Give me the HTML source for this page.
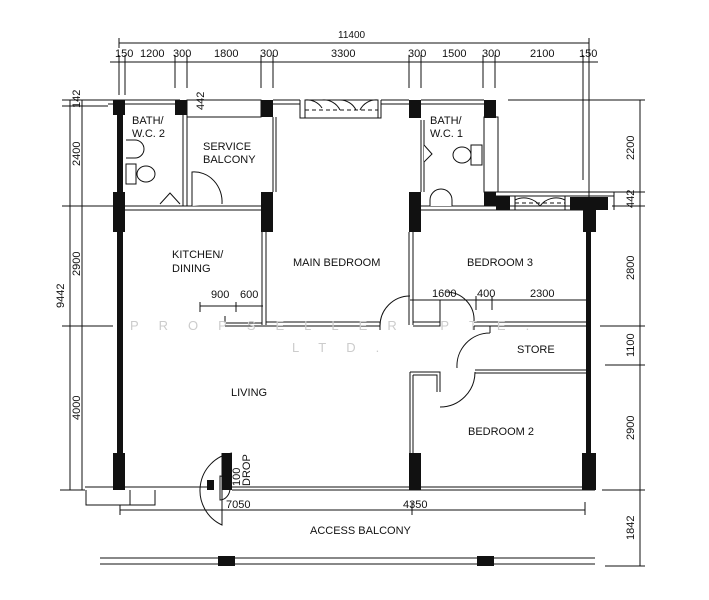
<!DOCTYPE html>
<html><head><meta charset="utf-8"><style>
body{margin:0;background:#fff}
svg{display:block}
text{font-family:"Liberation Sans Narrow","Liberation Sans",sans-serif;font-size:11px;fill:#111}
.d{font-size:10px}
</style></head><body>
<svg width="709" height="600" viewBox="0 0 709 600" xmlns="http://www.w3.org/2000/svg">
<g stroke="#111" fill="none" stroke-width="1">
<!-- top dims -->
<line x1="119" y1="43" x2="589" y2="43"/>
<line x1="119" y1="38" x2="119" y2="48"/><line x1="589" y1="38" x2="589" y2="48"/>
<line x1="110" y1="62" x2="598" y2="62"/>
<g>
<line x1="119" y1="55" x2="119" y2="95"/><line x1="125" y1="55" x2="125" y2="95"/>
<line x1="175" y1="55" x2="175" y2="88"/><line x1="187" y1="55" x2="187" y2="88"/>
<line x1="261" y1="55" x2="261" y2="88"/><line x1="273" y1="55" x2="273" y2="88"/>
<line x1="409" y1="55" x2="409" y2="88"/><line x1="421" y1="55" x2="421" y2="88"/>
<line x1="483" y1="55" x2="483" y2="88"/><line x1="495" y1="55" x2="495" y2="88"/>
<line x1="583" y1="55" x2="583" y2="180"/><line x1="589" y1="43" x2="589" y2="200"/>
</g>
<!-- left dims -->
<line x1="70" y1="100" x2="70" y2="490"/>
<line x1="62" y1="100" x2="108" y2="100"/><line x1="62" y1="106" x2="108" y2="106"/>
<line x1="62" y1="206" x2="113" y2="206"/><line x1="62" y1="326" x2="113" y2="326"/>
<line x1="60" y1="490" x2="85" y2="490"/>
<line x1="82" y1="100" x2="82" y2="490"/>
<!-- right dims -->
<line x1="640" y1="100" x2="640" y2="566"/>
<line x1="508" y1="100" x2="645" y2="100"/>
<line x1="612" y1="192" x2="645" y2="192"/><line x1="612" y1="206" x2="645" y2="206"/>
<line x1="600" y1="326" x2="645" y2="326"/><line x1="605" y1="365" x2="645" y2="365"/>
<line x1="602" y1="490" x2="645" y2="490"/><line x1="605" y1="566" x2="645" y2="566"/>
<!-- bottom dim -->
<line x1="120" y1="510" x2="585" y2="510"/>
<line x1="120" y1="505" x2="120" y2="515"/><line x1="412" y1="502" x2="412" y2="515"/><line x1="585" y1="502" x2="585" y2="515"/>
<!-- interior dims -->
<line x1="200" y1="306" x2="263" y2="306"/><line x1="200" y1="302" x2="200" y2="312"/><line x1="236" y1="302" x2="236" y2="312"/>
<line x1="410" y1="300" x2="586" y2="300"/><line x1="476" y1="296" x2="476" y2="310"/><line x1="492" y1="296" x2="492" y2="310"/>
<line x1="440" y1="300" x2="440" y2="324"/>

<!-- top exterior wall -->
<line x1="108" y1="100" x2="180" y2="100"/><line x1="108" y1="104" x2="180" y2="104"/>
<rect x="187" y="100" width="74" height="17"/>
<line x1="273" y1="100" x2="300" y2="100"/><line x1="273" y1="104" x2="300" y2="104"/>
<path d="M300 100 V118 H305 M378 118 H381 V100 M381 100 H409 M381 104 H409 M300 104 H296"/>
<rect x="305" y="100" width="73" height="18"/>
<path d="M305 100 A18 18 0 0 1 322 108 M322 100 A18 18 0 0 1 340 110 M340 100 A18 18 0 0 1 356 110 M378 100 A18 18 0 0 0 360 110"/>
<line x1="305" y1="110" x2="378" y2="110" stroke-dasharray="4,3"/>
<line x1="421" y1="100" x2="484" y2="100"/><line x1="421" y1="104" x2="484" y2="104"/>
<rect x="484" y="117" width="14" height="75"/>
<!-- balcony projection -->
<path d="M496 192 H614 V210 M496 196 H614"/>
<rect x="515" y="196" width="50" height="14"/>
<path d="M515 200 A20 20 0 0 1 540 206 M565 200 A20 20 0 0 0 540 206"/>
<line x1="515" y1="203" x2="565" y2="203" stroke-dasharray="4,3"/>
<!-- interior walls -->
<line x1="125" y1="206" x2="261" y2="206"/><line x1="125" y1="210" x2="261" y2="210"/>
<line x1="183" y1="115" x2="183" y2="206"/><line x1="187" y1="117" x2="187" y2="206"/>
<line x1="273" y1="117" x2="273" y2="192"/><line x1="276" y1="117" x2="276" y2="192"/>
<line x1="421" y1="120" x2="421" y2="192"/><line x1="424" y1="120" x2="424" y2="192"/>
<line x1="421" y1="206" x2="583" y2="206"/><line x1="421" y1="210" x2="583" y2="210"/>
<line x1="262" y1="232" x2="262" y2="325"/><line x1="266" y1="232" x2="266" y2="325"/>
<line x1="409" y1="232" x2="409" y2="325"/><line x1="413" y1="232" x2="413" y2="325"/>
<path d="M225 323 H262 M225 326 H266 M225 323 V316 M266 322 H380 M266 326 H380 M380 322 V330"/>
<path d="M380 326 A30 30 0 0 1 410 296"/>
<path d="M413 322 H440 V326 H413 M474 322 H590 M474 326 H590 M474 326 V330"/>
<path d="M446 292 A28 28 0 0 1 474 322"/>
<path d="M490 326 V333 M490 333 A33 33 0 0 0 457 368 M475 370 H590 M475 373 H590"/>
<path d="M410 372 H440 V392 M410 372 V453 M413 375 H437 V392 M413 375 V453"/>
<path d="M475 372 A35 35 0 0 1 440 407"/>
<!-- bottom wall -->
<line x1="85" y1="487" x2="210" y2="487"/><line x1="232" y1="487" x2="595" y2="487"/>
<line x1="232" y1="490" x2="595" y2="490"/>
<path d="M86 490 V505 H130 V490 M130 505 H155 V490"/>
<path d="M232 453 A38 38 0 0 0 222 525 V453"/>
<path d="M220 476 A10 12 0 0 1 220 500 Z"/>
<!-- access balcony -->
<line x1="100" y1="558" x2="595" y2="558"/><line x1="100" y1="564" x2="595" y2="564"/>
<!-- exterior right wall -->
</g>
<g fill="#111">
<rect x="113" y="100" width="12" height="15"/><rect x="175" y="100" width="12" height="15"/>
<rect x="261" y="100" width="12" height="17"/><rect x="409" y="100" width="12" height="18"/>
<rect x="484" y="100" width="12" height="18"/>
<rect x="117" y="100" width="6" height="390"/>
<rect x="113" y="192" width="12" height="40"/><rect x="113" y="453" width="12" height="37"/>
<rect x="261" y="192" width="12" height="40"/><rect x="409" y="192" width="12" height="40"/>
<rect x="484" y="192" width="12" height="14"/><rect x="496" y="196" width="14" height="14"/>
<rect x="570" y="197" width="38" height="13"/><rect x="583" y="197" width="13" height="35"/>
<rect x="586" y="232" width="5" height="258"/><rect x="582" y="453" width="14" height="37"/>
<rect x="409" y="453" width="12" height="37"/><rect x="222" y="453" width="10" height="37"/>
<rect x="207" y="480" width="7" height="10"/>
<rect x="218" y="556" width="17" height="10"/><rect x="477" y="556" width="17" height="10"/>
</g>
<!-- fixtures -->
<g stroke="#111" fill="#fff">
<ellipse cx="146" cy="174" rx="9" ry="8"/><rect x="126" y="164" width="10" height="20"/>
<path d="M126 140 H135 A8 8 0 0 1 135 158 H126"/>
<path d="M160 204 L170 193 L180 204"/>
<ellipse cx="462" cy="155" rx="9" ry="8"/><rect x="471" y="145" width="11" height="20"/>
<path d="M424 145 L432 154 L424 162"/>
<path d="M430 206 V200 A11 11 0 0 1 452 200 V206"/>
<path d="M192 206 V172 A28 30 0 0 1 222 204"/>
</g>
<!-- watermark -->
<text x="130" y="330" style="fill:#ccc;font-size:13px;letter-spacing:20px">PROPSELLER PTE.</text>
<text x="292" y="352" style="fill:#ccc;font-size:13px;letter-spacing:20px">LTD.</text>
<!-- labels -->
<text class="d" x="338" y="38">11400</text>
<g class="d">
<text x="115" y="57">150</text><text x="140" y="57">1200</text><text x="173" y="57">300</text>
<text x="214" y="57">1800</text><text x="260" y="57">300</text><text x="331" y="57">3300</text>
<text x="408" y="57">300</text><text x="442" y="57">1500</text><text x="482" y="57">300</text>
<text x="530" y="57">2100</text><text x="579" y="57">150</text>
<text x="211" y="298">900</text><text x="240" y="298">600</text>
<text x="432" y="297">1600</text><text x="477" y="297">400</text><text x="530" y="297">2300</text>
<text x="226" y="508">7050</text><text x="403" y="508">4350</text>
</g>
<g class="d">
<text transform="translate(80,108) rotate(-90)">142</text>
<text transform="translate(80,166) rotate(-90)">2400</text>
<text transform="translate(80,276) rotate(-90)">2900</text>
<text transform="translate(80,420) rotate(-90)">4000</text>
<text transform="translate(64,308) rotate(-90)">9442</text>
<text transform="translate(204,110) rotate(-90)">442</text>
<text transform="translate(634,160) rotate(-90)">2200</text>
<text transform="translate(634,208) rotate(-90)">442</text>
<text transform="translate(634,280) rotate(-90)">2800</text>
<text transform="translate(634,357) rotate(-90)">1100</text>
<text transform="translate(634,440) rotate(-90)">2900</text>
<text transform="translate(634,540) rotate(-90)">1842</text>
<text transform="translate(240,486) rotate(-90)">100</text>
<text transform="translate(250,486) rotate(-90)">DROP</text>
</g>
<text x="132" y="124">BATH/</text><text x="132" y="137">W.C. 2</text>
<text x="203" y="150">SERVICE</text><text x="203" y="163">BALCONY</text>
<text x="172" y="258">KITCHEN/</text><text x="172" y="272">DINING</text>
<text x="293" y="266">MAIN BEDROOM</text>
<text x="430" y="124">BATH/</text><text x="430" y="137">W.C. 1</text>
<text x="467" y="266">BEDROOM 3</text>
<text x="517" y="353">STORE</text>
<text x="231" y="396">LIVING</text>
<text x="468" y="435">BEDROOM 2</text>
<text x="310" y="534">ACCESS BALCONY</text>
</svg>
</body></html>
